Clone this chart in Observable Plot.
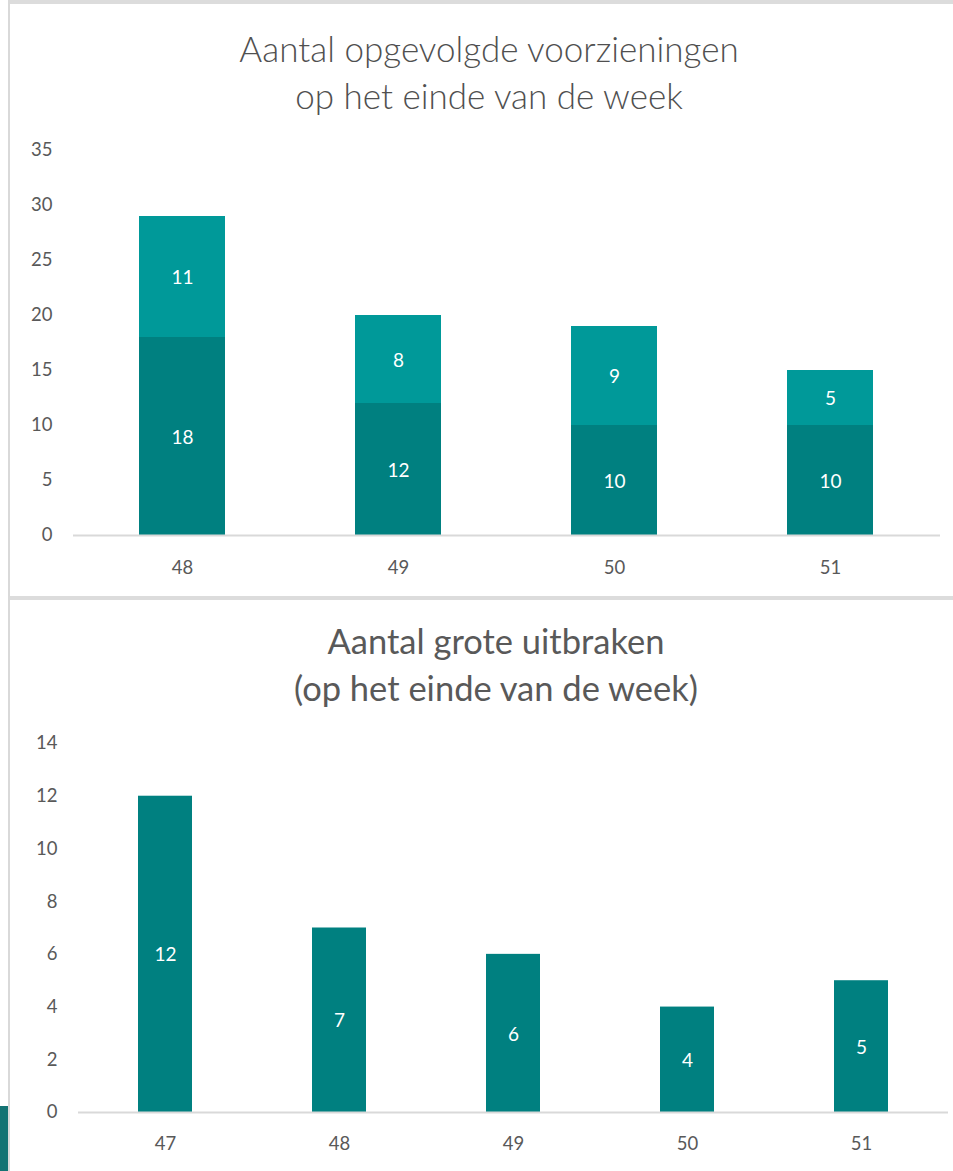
<!DOCTYPE html>
<html>
<head>
<meta charset="utf-8">
<script src="https://cdn.jsdelivr.net/npm/d3@7"></script>
<script src="https://cdn.jsdelivr.net/npm/@observablehq/plot@0.6"></script>
<style>
  html, body { margin: 0; padding: 0; background: #fff; }
  #page { position: relative; width: 953px; height: 1171px; overflow: hidden; background: #fff; font-family: Lato, "Open Sans", sans-serif; }
  .frame-left { position: absolute; left: 8px; top: 0; width: 2px; height: 1171px; background: #d9d9d9; }
  .frame-top { position: absolute; left: 8px; top: 0; width: 945px; height: 4px; background: #dcdcdc; }
  .frame-mid { position: absolute; left: 8px; top: 596px; width: 945px; height: 4px; background: #dcdcdc; }
  .corner { position: absolute; left: 0; top: 1106px; width: 8px; height: 65px; background: #137373; }
  .title { position: absolute; color: #595959; text-align: center; white-space: nowrap; }
  #t1 { left: 489px; top: 25px; transform: translateX(-50%); font-size: 35px; line-height: 47px; font-weight: 300; color: #505050; }
  #t2 { left: 496px; top: 617px; transform: translateX(-50%); font-size: 34.5px; line-height: 47px; }
  .chart { position: absolute; left: 0; }
  #c1 { top: 130px; }
  #c2 { top: 720px; }
</style>
</head>
<body>
<div id="page">
  <div class="frame-top"></div>
  <div class="frame-mid"></div>
  <div class="frame-left"></div>
  <div class="corner"></div>
  <div class="title" id="t1">Aantal opgevolgde voorzieningen<br>op het einde van de week</div>
  <div class="title" id="t2">Aantal grote uitbraken<br>(op het einde van de week)</div>
  <div class="chart" id="c1"></div>
  <div class="chart" id="c2"></div>
</div>
<script>
// Chart 1: stacked
const weeks1 = ["48", "49", "50", "51"];
const bottomValues = [18, 12, 10, 10];
const topValues = [11, 8, 9, 5];
const seriesNames = ["onder", "boven"];
const yTicks1 = [0, 5, 10, 15, 20, 25, 30, 35];

// Chart 2
const weeks2 = ["47", "48", "49", "50", "51"];
const outbreaks = [12, 7, 6, 4, 5];
const yTicks2 = [0, 2, 4, 6, 8, 10, 12, 14];

const data1 = [];
weeks1.forEach((w, i) => {
  data1.push({week: w, series: seriesNames[0], value: bottomValues[i]});
  data1.push({week: w, series: seriesNames[1], value: topValues[i]});
});
const data2 = weeks2.map((w, i) => ({week: w, value: outbreaks[i]}));

const tickFont = {fontSize: 18.5, fill: "#595959"};

const p1 = Plot.plot({
  width: 953,
  height: 460,
  marginTop: 20,
  marginBottom: 55,
  marginLeft: 73,
  marginRight: 13,
  style: {fontFamily: "Lato, 'Open Sans', sans-serif", fontSize: "18px", color: "#595959", background: "transparent"},
  x: {domain: weeks1, paddingInner: 0.6, paddingOuter: 0.3, label: null},
  y: {domain: [0, 35], label: null},
  color: {domain: seriesNames, range: ["#008080", "#009999"]},
  marks: [
    Plot.barY(data1, {x: "week", y: "value", fill: "series", order: seriesNames}),
    Plot.ruleY([0], {stroke: "#d9d9d9", strokeWidth: 2}),
    Plot.text(data1, Plot.stackY({x: "week", y: "value", z: "series", order: seriesNames, text: d => String(d.value), fill: "white", fontSize: 19, dy: 1})),
    Plot.axisY({ticks: yTicks1, tickSize: 0, tickPadding: 21, label: null, ...tickFont}),
    Plot.axisX({tickSize: 0, tickPadding: 25, label: null, ...tickFont})
  ]
});
document.getElementById("c1").appendChild(p1);

const p2 = Plot.plot({
  width: 953,
  height: 460,
  marginTop: 23,
  marginBottom: 68,
  marginLeft: 78,
  marginRight: 5,
  style: {fontFamily: "Lato, 'Open Sans', sans-serif", fontSize: "18px", color: "#595959", background: "transparent"},
  x: {domain: weeks2, paddingInner: 0.69, paddingOuter: 0.345, label: null},
  y: {domain: [0, 14], label: null},
  marks: [
    Plot.barY(data2, {x: "week", y: "value", fill: "#008080"}),
    Plot.ruleY([0], {stroke: "#d9d9d9", strokeWidth: 2}),
    Plot.text(data2, {x: "week", y: d => d.value / 2, text: d => String(d.value), fill: "white", fontSize: 19, dy: 1}),
    Plot.axisY({ticks: yTicks2, tickSize: 0, tickPadding: 21, label: null, ...tickFont}),
    Plot.axisX({tickSize: 0, tickPadding: 24, label: null, ...tickFont})
  ]
});
document.getElementById("c2").appendChild(p2);
</script>
</body>
</html>
